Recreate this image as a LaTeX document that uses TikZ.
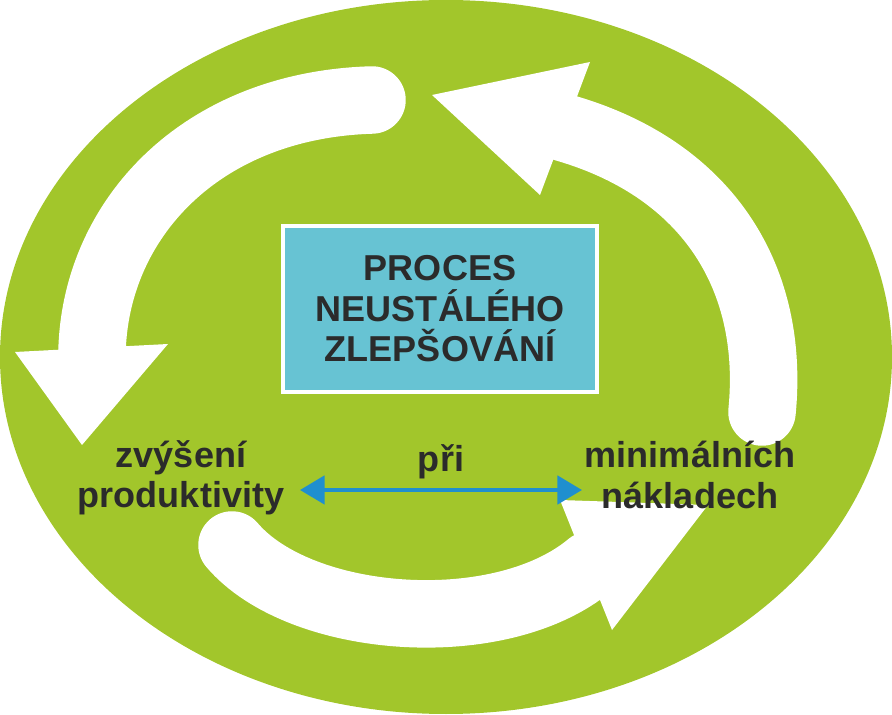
\documentclass[tikz,border=0pt]{standalone}
\usepackage{fontspec}
\setmainfont{Liberation Sans}
\usetikzlibrary{arrows.meta}
\definecolor{leaf}{HTML}{A2C62B}
\definecolor{boxblue}{HTML}{67C3D3}
\definecolor{linkblue}{HTML}{1F8FCF}
\definecolor{ink}{HTML}{2B2B2B}
\newcommand{\bandw}{1.35cm}

\begin{document}
\begin{tikzpicture}[x=0.02cm,y=-0.02cm,
    band/.style={white, line width=\bandw},
    head/.style={fill=white, draw=none},
    lbl/.style={font=\bfseries\fontsize{20.5}{23}\selectfont, text=ink, align=center}]
    \useasboundingbox (0,0) rectangle (892,715);
    % background disc
    \fill[leaf] (446,357) ellipse [x radius=446, y radius=357];

    % left arrow
    \draw[band, line cap=round] (372,100) .. controls (200,105) and (95,220) .. (92,352);
    \fill[head] (15,352) -- (168,344) -- (82,445) -- cycle;
    % bottom arrow
    \draw[band, line cap=round] (232,545) .. controls (300,625) and (500,640) .. (590,565);
    \fill[head] (560,500) -- (708,505) -- (612,630) -- cycle;
    % right arrow
    \draw[band, line cap=round] (762,412) .. controls (775,280) and (710,170) .. (565,128);
    \fill[head] (432,95) -- (590,62) -- (540,195) -- cycle;

    % centre box
    \node[draw=white, line width=2pt, fill=boxblue, inner sep=0pt,
          minimum width=6.28cm, minimum height=3.32cm, lbl] (goal) at (440,309)
          {PROCES\\NEUSTÁLÉHO\\ZLEPŠOVÁNÍ};

    % labels
    \node[lbl] (gain) at (181,478) {zvýšení\\produktivity};
    \node[lbl] (cost) at (690,475) {minimálních\\nákladech};
    \node[lbl] (at) at (441,462) {při};
    \draw[linkblue, line width=2.5pt, {Triangle[length=14pt,width=16pt]}-{Triangle[length=14pt,width=16pt]}]
        (300,490) -- (582,490);
\end{tikzpicture}
\end{document}
